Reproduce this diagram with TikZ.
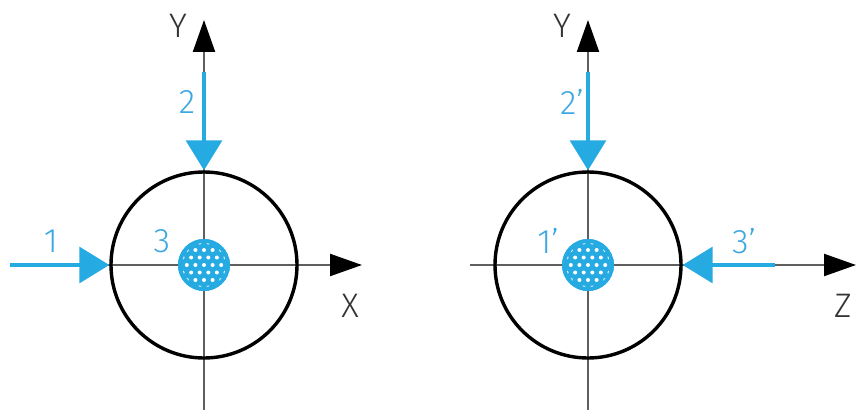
\documentclass[tikz,border=0pt]{standalone}
\usepackage{fontspec}
\setmainfont{Fira Sans Light}
\usetikzlibrary{arrows.meta}
\definecolor{cblue}{RGB}{38,170,226}
\definecolor{lblue}{RGB}{60,168,225}
\definecolor{axgray}{RGB}{95,95,95}
\tikzset{
  axis/.style={draw=axgray, line width=2.2pt},
  axtip/.style={-{Triangle[length=32pt,width=22pt,color=black]}, draw=axgray, line width=2.2pt},
  force/.style={draw=cblue, line width=3.4pt, -{Triangle[length=30pt,width=36pt]}},
  ring/.style={draw=black, line width=3.4pt},
  lbl/.style={text=lblue, font=\fontsize{34}{34}\selectfont, inner sep=0pt},
  axl/.style={text=black!80, font=\fontsize{34}{34}\selectfont, inner sep=0pt},
}
\newcommand{\dotted}[2]{%
  \begin{scope}
    \clip (#1,#2) circle (26);
    \fill[cblue] (#1,#2) circle (26);
    \foreach \r in {-3,...,3}{
      \foreach \c in {-3,...,3}{
        \pgfmathsetmacro{\xx}{#1+\c*8.6+mod(abs(\r),2)*4.3}
        \pgfmathsetmacro{\yy}{#2+\r*7.5}
        \fill[white] (\xx,\yy) circle (2.0);
      }
    }
  \end{scope}
  \fill[cblue, even odd rule] (#1,#2) circle (26) (#1,#2) circle (22);
}
\begin{document}
\begin{tikzpicture}[x=1pt,y=-1pt]
\useasboundingbox (0,0) rectangle (858,414);
% ---------- left ----------
\coordinate (Lc) at (204,265);
\coordinate (Lyb) at (204,410);
\coordinate (Lyt) at (204,20);
\coordinate (Lxl) at (10,265);
\coordinate (Lxr) at (362,265);
\draw[axis] (Lyb) -- (204,60);
\draw[axtip] (204,60) -- (Lyt);
\draw[axis] (Lxl) -- (330,265);
\draw[axtip] (330,265) -- (Lxr);
\node[ring, circle, minimum size=186pt, inner sep=0pt] (Lring) at (Lc) {};
\dotted{204}{265}
\coordinate (L2s) at (204,72);
\coordinate (L1s) at (10,265);
\draw[force] (L2s) -- (Lring.north);
\draw[force] (L1s) -- (Lring.west);
\node[axl] (LY) at (178,26) {Y};
\node[axl] (LX) at (350,306) {X};
\node[lbl] (l2) at (187,102) {2};
\node[lbl] (l1) at (51,241) {1};
\node[lbl] (l3) at (162,241) {3};
% ---------- right ----------
\coordinate (Rc) at (588,265);
\coordinate (Ryb) at (588,410);
\coordinate (Ryt) at (588,20);
\coordinate (Rzl) at (470,265);
\coordinate (Rzr) at (856,265);
\draw[axis] (Ryb) -- (588,60);
\draw[axtip] (588,60) -- (Ryt);
\draw[axis] (Rzl) -- (826,265);
\draw[axtip] (826,265) -- (Rzr);
\node[ring, circle, minimum size=186pt, inner sep=0pt] (Rring) at (Rc) {};
\dotted{588}{265}
\coordinate (R2s) at (588,72);
\coordinate (R3s) at (775,265);
\draw[force] (R2s) -- (Rring.north);
\draw[force] (R3s) -- (Rring.east);
\node[axl] (RY) at (562,26) {Y};
\node[axl] (RZ) at (843,306) {Z};
\node[lbl] (r2) at (572,102) {2’};
\node[lbl] (r1) at (548,241) {1’};
\node[lbl] (r3) at (744,241) {3’};
\end{tikzpicture}
\end{document}
